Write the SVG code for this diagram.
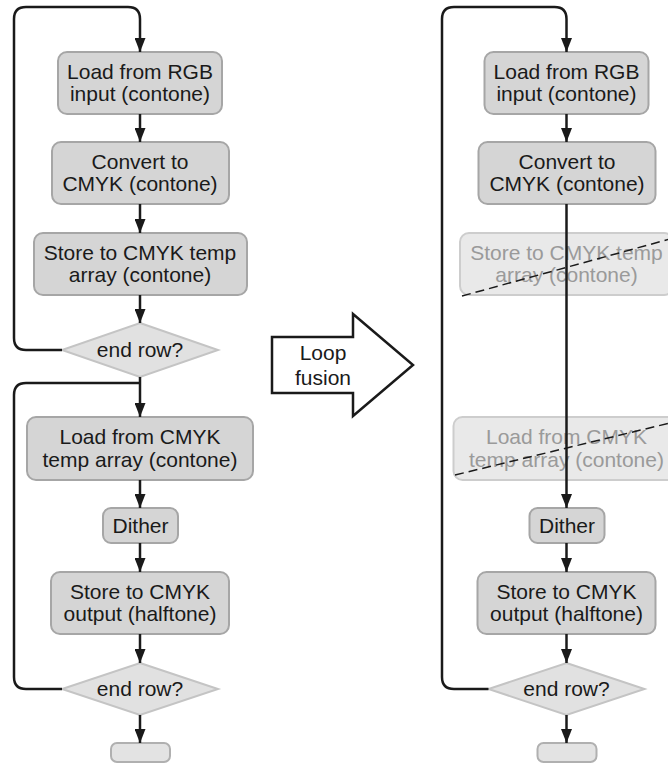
<svg xmlns="http://www.w3.org/2000/svg" width="668" height="764" viewBox="0 0 668 764">
<defs>
<style>
.box{fill:#d5d5d5;stroke:#a6a6a6;stroke-width:2}
.dia{fill:#e1e1e1;stroke:#c4c4c4;stroke-width:2}
.end{fill:#e3e3e3;stroke:#b0b0b0;stroke-width:2}
.fade{fill:#e9e9e9;stroke:#cdcdcd;stroke-width:2}
.t{font-family:"Liberation Sans",Arial,sans-serif;font-size:21px;fill:#1a1a1a;text-anchor:middle}
.ft{font-family:"Liberation Sans",Arial,sans-serif;font-size:21px;fill:#9a9a9a;text-anchor:middle}
.dash{fill:none;stroke:#1a1a1a;stroke-width:1.5;stroke-dasharray:9,5}
.c{fill:none;stroke:#1a1a1a;stroke-width:2.5}
.ca{fill:none;stroke:#1a1a1a;stroke-width:2.5;marker-end:url(#ah)}
</style>
<marker id="ah" viewBox="0 0 14 11" refX="14" refY="5.5" markerWidth="14" markerHeight="11" markerUnits="userSpaceOnUse" orient="auto">
<path d="M0,0 L14,5.5 L0,11 z" fill="#1a1a1a"/>
</marker>
</defs>
<rect width="668" height="764" fill="#ffffff"/>

<!-- Left flowchart -->
<g id="L-load-rgb"><rect class="box" x="58" y="52" width="164" height="62" rx="9"/><text class="t" x="140" y="79">Load from RGB</text><text class="t" x="140" y="101">input (contone)</text></g>
<g id="L-convert"><rect class="box" x="52" y="142" width="177" height="62" rx="9"/><text class="t" x="140" y="169">Convert to</text><text class="t" x="140" y="191">CMYK (contone)</text></g>
<g id="L-store-temp"><rect class="box" x="34" y="233" width="213" height="62" rx="9"/><text class="t" x="140" y="260">Store to CMYK temp</text><text class="t" x="140" y="282">array (contone)</text></g>
<g id="L-endrow1"><polygon class="dia" points="140,323 218,350 140,377 62,350"/><text class="t" x="140" y="357">end row?</text></g>
<g id="L-load-cmyk"><rect class="box" x="27" y="417" width="226" height="63" rx="9"/><text class="t" x="140" y="444">Load from CMYK</text><text class="t" x="140" y="467">temp array (contone)</text></g>
<g id="L-dither"><rect class="box" x="103" y="508" width="75" height="35" rx="8"/><text class="t" x="140.5" y="533">Dither</text></g>
<g id="L-store-out"><rect class="box" x="51" y="572" width="178" height="62" rx="9"/><text class="t" x="140" y="599">Store to CMYK</text><text class="t" x="140" y="621">output (halftone)</text></g>
<g id="L-endrow2"><polygon class="dia" points="140,663 218,689 140,715 62,689"/><text class="t" x="140" y="696">end row?</text></g>
<g id="L-end"><rect class="end" x="111" y="743" width="59" height="19" rx="6"/></g>

<!-- Loop fusion arrow -->
<g id="loop-fusion"><polygon points="272,337 353,337 353,314 413,365 353,416 353,393 272,393" fill="#ffffff" stroke="#1a1a1a" stroke-width="2.5"/><text class="t" x="323" y="360">Loop</text><text class="t" x="323" y="385">fusion</text></g>

<!-- Right flowchart -->
<g id="R-load-rgb"><rect class="box" x="484.5" y="52" width="164" height="62" rx="9"/><text class="t" x="566.5" y="79">Load from RGB</text><text class="t" x="566.5" y="101">input (contone)</text></g>
<g id="R-convert"><rect class="box" x="478.5" y="142" width="177" height="62" rx="9"/><text class="t" x="567" y="169">Convert to</text><text class="t" x="567" y="191">CMYK (contone)</text></g>
<g id="R-store-temp"><rect class="fade" x="460" y="233" width="213" height="62" rx="9"/><text class="ft" x="566.5" y="260">Store to CMYK temp</text><text class="ft" x="566.5" y="282">array (contone)</text><line class="dash" x1="462" y1="296" x2="670" y2="239"/></g>
<g id="R-load-cmyk"><rect class="fade" x="453.5" y="417" width="226" height="63" rx="9"/><text class="ft" x="566.5" y="444">Load from CMYK</text><text class="ft" x="566.5" y="467">temp array (contone)</text><line class="dash" x1="455" y1="475" x2="670" y2="423"/></g>
<g id="R-dither"><rect class="box" x="529.5" y="508" width="75" height="35" rx="8"/><text class="t" x="567" y="533">Dither</text></g>
<g id="R-store-out"><rect class="box" x="477.5" y="572" width="178" height="62" rx="9"/><text class="t" x="566.5" y="599">Store to CMYK</text><text class="t" x="566.5" y="621">output (halftone)</text></g>
<g id="R-endrow"><polygon class="dia" points="566.5,663 644.5,689 566.5,715 488.5,689"/><text class="t" x="566.5" y="696">end row?</text></g>
<g id="R-end"><rect class="end" x="537.5" y="743" width="59" height="19" rx="6"/></g>

<!-- Connectors -->
<g id="connectors">
<path class="ca" d="M62,350 H26 Q14,350 14,338 V19 Q14,7 26,7 H128 Q140,7 140,19 V52"/>
<path class="ca" d="M140,114 V142"/>
<path class="ca" d="M140,204 V233"/>
<path class="ca" d="M140,295 V323"/>
<path class="ca" d="M140,377 V417"/>
<path class="c" d="M62,689 H26 Q14,689 14,677 V395 Q14,383 26,383 H140"/>
<path class="ca" d="M140,480 V508"/>
<path class="ca" d="M140,543 V572"/>
<path class="ca" d="M140,634 V663"/>
<path class="ca" d="M140,715 V743"/>

<path class="ca" d="M488.5,689 H454 Q442,689 442,677 V19 Q442,7 454,7 H554.5 Q566.5,7 566.5,19 V52"/>
<path class="ca" d="M566.5,114 V142"/>
<path class="ca" d="M566.5,204 V508"/>
<path class="ca" d="M566.5,543 V572"/>
<path class="ca" d="M566.5,634 V663"/>
<path class="ca" d="M566.5,715 V743"/>
</g>
</svg>
